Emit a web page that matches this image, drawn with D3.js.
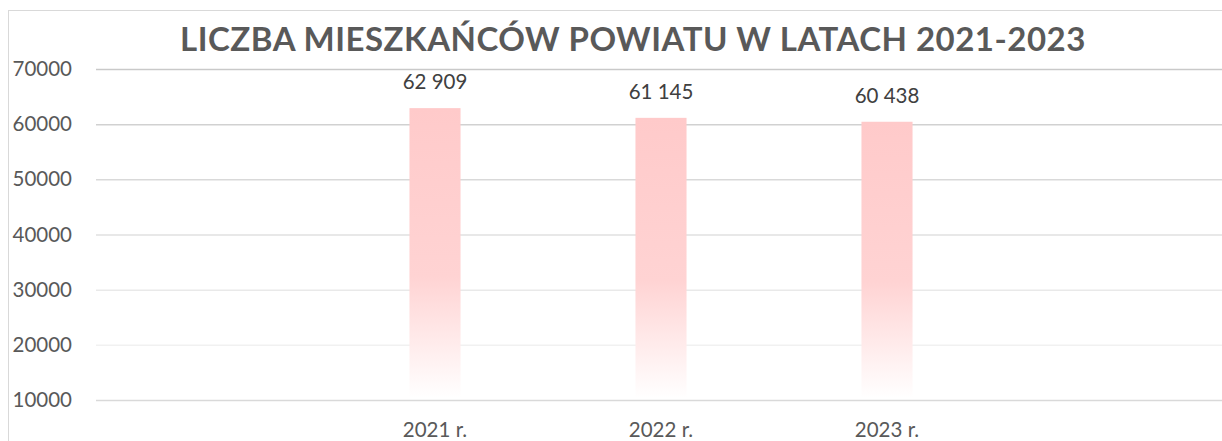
<!DOCTYPE html>
<html>
<head>
<meta charset="utf-8">
<script src="https://cdn.jsdelivr.net/npm/d3@7"></script>
<style>
  html, body { margin: 0; padding: 0; background: #fff; }
  svg { display: block; }
</style>
</head>
<body>
<svg id="chart" width="1222" height="441"></svg>
<script>
"use strict";

var title = 'LICZBA MIESZKAŃCÓW POWIATU W LATACH 2021-2023';
var years = ['2021 r.', '2022 r.', '2023 r.'];
var residents = [62909, 61145, 60438];
var yTicks = [10000, 20000, 30000, 40000, 50000, 60000, 70000];

function draw_chart(svg) {
  var margin = { top: 69, right: -4, bottom: 41, left: 96 };
  var width = +svg.attr('width') - margin.left - margin.right;
  var height = +svg.attr('height') - margin.top - margin.bottom;

  var font = 'Lato, "Open Sans", sans-serif';

  // chart frame (cropped at right and bottom)
  svg.append('rect')
    .attr('x', 8.5).attr('y', 10.5)
    .attr('width', 1400).attr('height', 600)
    .attr('fill', 'none')
    .attr('stroke', '#d9d9d9');

  svg.append('text')
    .attr('x', 633).attr('y', 51)
    .attr('text-anchor', 'middle')
    .attr('font-family', font)
    .attr('font-weight', 700)
    .attr('font-size', 33)
    .attr('letter-spacing', 0.5)
    .attr('fill', '#595959')
    .text(title);

  var defs = svg.append('defs');
  var grad = defs.append('linearGradient')
    .attr('id', 'barfill')
    .attr('x1', 0).attr('y1', 0).attr('x2', 0).attr('y2', 1);
  grad.append('stop').attr('offset', '0%').attr('stop-color', '#ffcaca');
  grad.append('stop').attr('offset', '58%').attr('stop-color', '#ffd3d3');
  grad.append('stop').attr('offset', '100%').attr('stop-color', '#ffffff');

  var plot = svg.append('g')
    .attr('transform', 'translate(' + margin.left + ',' + margin.top + ')');

  var xscale = d3.scaleBand()
    .domain(years)
    .range([0, width])
    .paddingInner(0.774)
    .paddingOuter(1.387);

  var yscale = d3.scaleLinear()
    .domain([10000, 70000])
    .range([height, 0]);

  var gridColor = d3.scaleLinear()
    .domain([20000, 70000])
    .range(['#f1f1f1', '#c9c9c9']);

  var yaxis = d3.axisLeft(yscale)
    .tickValues(yTicks)
    .tickSize(-width)
    .tickPadding(24)
    .tickFormat(d3.format('d'));

  var ya = plot.append('g')
    .attr('class', 'axis y')
    .call(yaxis);
  ya.select('.domain').remove();
  ya.selectAll('.tick line')
    .attr('stroke-width', 1.5)
    .attr('stroke', function (d) { return d === 10000 ? '#d9d9d9' : gridColor(d); });
  ya.selectAll('.tick text')
    .attr('font-family', font)
    .attr('font-size', 20.5)
    .attr('fill', '#595959')
    .attr('x', -24);

  plot.selectAll('.bar')
    .data(residents)
    .enter().append('rect')
    .attr('class', 'bar')
    .attr('x', function (d, i) { return xscale(years[i]); })
    .attr('width', xscale.bandwidth())
    .attr('y', function (d) { return yscale(d); })
    .attr('height', function (d) { return yscale(10000) - yscale(d) - 2; })
    .attr('fill', 'url(#barfill)');

  var fmt = d3.formatLocale({ decimal: ',', thousands: ' ', grouping: [3], currency: ['', ''] }).format(',d');

  plot.selectAll('.value')
    .data(residents)
    .enter().append('text')
    .attr('class', 'value')
    .attr('x', function (d, i) { return xscale(years[i]) + xscale.bandwidth() / 2; })
    .attr('y', function (d) { return yscale(d) - 19; })
    .attr('text-anchor', 'middle')
    .attr('font-family', font)
    .attr('font-size', 20.5)
    .attr('fill', '#404040')
    .text(function (d) { return fmt(d); });

  var xaxis = d3.axisBottom(xscale).tickSize(0).tickPadding(22);
  var xa = plot.append('g')
    .attr('class', 'axis x')
    .attr('transform', 'translate(0,' + height + ')')
    .call(xaxis);
  xa.select('.domain').remove();
  xa.selectAll('text')
    .attr('font-family', font)
    .attr('font-size', 20.5)
    .attr('fill', '#595959');
}

draw_chart(d3.select('#chart'));
</script>
</body>
</html>
